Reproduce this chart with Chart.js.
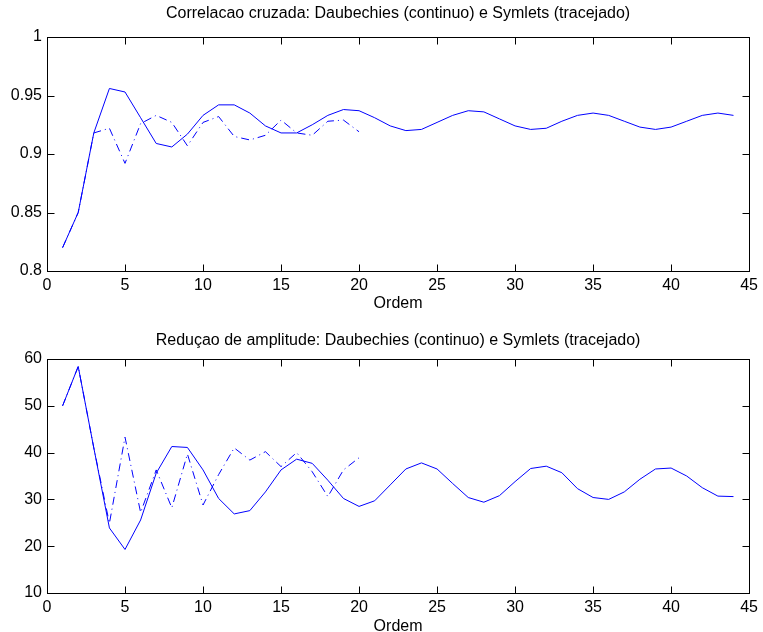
<!DOCTYPE html>
<html>
<head>
<meta charset="utf-8">
<script src="https://cdn.jsdelivr.net/npm/chart.js@4.4.1/dist/chart.umd.min.js"></script>
<style>
  html, body { margin: 0; padding: 0; background: #fff; overflow: hidden; }
  #wrap { position: relative; width: 763px; height: 632px; }
  canvas { position: absolute; left: 0; }
  #c1 { top: 0; }
  #c2 { top: 316px; }
</style>
</head>
<body>
<div id="wrap">
  <canvas id="c1" width="763" height="316"></canvas>
  <canvas id="c2" width="763" height="321"></canvas>
</div>
<script>
// ordem (x)
const ordemDaub = Array.from({ length: 44 }, (_, i) => i + 1);
const ordemSym = Array.from({ length: 20 }, (_, i) => i + 1);

// correlacao cruzada
const corrDaub = [0.820, 0.850, 0.918, 0.956, 0.953, 0.931, 0.909, 0.906, 0.917, 0.933,
                  0.942, 0.942, 0.935, 0.924, 0.918, 0.918, 0.925, 0.933, 0.938, 0.937,
                  0.931, 0.924, 0.920, 0.921, 0.927, 0.933, 0.937, 0.936, 0.930, 0.924,
                  0.921, 0.922, 0.928, 0.933, 0.935, 0.933, 0.928, 0.923, 0.921, 0.923,
                  0.928, 0.933, 0.935, 0.933];
const corrSym = [0.820, 0.850, 0.918, 0.922, 0.892, 0.926, 0.933, 0.927, 0.907, 0.927,
                 0.932, 0.915, 0.912, 0.916, 0.929, 0.918, 0.916, 0.928, 0.929, 0.919];

// reducao de amplitude
const ampDaub = [50.0, 58.4, 41.0, 23.9, 19.3, 25.6, 35.6, 41.3, 41.1, 36.3,
                 30.2, 26.9, 27.6, 31.6, 36.3, 38.6, 37.7, 34.1, 30.2, 28.5,
                 29.7, 33.1, 36.5, 37.8, 36.5, 33.4, 30.4, 29.4, 30.8, 33.8,
                 36.6, 37.1, 35.7, 32.3, 30.4, 30.0, 31.6, 34.3, 36.5, 36.7,
                 35.0, 32.5, 30.7, 30.6];
const ampSym = [50.0, 58.4, 41.0, 24.9, 43.3, 27.2, 36.3, 28.2, 39.7, 28.8,
                35.3, 41.0, 38.4, 40.2, 37.0, 40.0, 35.9, 30.6, 36.3, 38.9];

// ticks
const xTicks = [0, 5, 10, 15, 20, 25, 30, 35, 40, 45];
const corrTicks = [0.8, 0.85, 0.9, 0.95, 1];
const ampTicks = [10, 20, 30, 40, 50, 60];

const FONT = "'Liberation Sans', Arial, sans-serif";
Chart.defaults.font.family = FONT;
Chart.defaults.font.size = 16;
Chart.defaults.color = '#000';

const BLUE = '#0000ff';

// matlab style box with inward ticks, title centred over the axes
const boxTicks = {
  id: 'boxTicks',
  afterDraw(chart, args, opts) {
    const { ctx, chartArea: a, scales: { x, y } } = chart;
    const L = Math.round(a.left) + 0.5, R = Math.round(a.right) + 0.5;
    const T = Math.round(a.top) + 0.5, B = Math.round(a.bottom) + 0.5;
    ctx.save();
    ctx.strokeStyle = '#000';
    ctx.lineWidth = 1;
    ctx.beginPath();
    x.ticks.forEach(t => {
      const px = Math.round(x.getPixelForValue(t.value)) + 0.5;
      ctx.moveTo(px, T); ctx.lineTo(px, T + 7);
      ctx.moveTo(px, B); ctx.lineTo(px, B - 7);
    });
    y.ticks.forEach(t => {
      const py = Math.round(y.getPixelForValue(t.value)) + 0.5;
      ctx.moveTo(L, py); ctx.lineTo(L + 7, py);
      ctx.moveTo(R, py); ctx.lineTo(R - 7, py);
    });
    ctx.stroke();
    ctx.strokeRect(L, T, R - L, B - T);

    ctx.fillStyle = '#000';
    ctx.font = '16px ' + FONT;
    ctx.textAlign = 'center';
    ctx.textBaseline = 'middle';
    ctx.fillText(opts.text, (a.left + a.right) / 2, opts.y);
    ctx.restore();
  }
};

function pts(xs, ys) {
  return ys.map((v, i) => ({ x: xs[i], y: v }));
}

function makeChart(id, cfg) {
  return new Chart(document.getElementById(id), {
    type: 'line',
    data: {
      datasets: [
        { data: pts(ordemDaub, cfg.daub), borderColor: BLUE, borderWidth: 1, pointRadius: 0, tension: 0, fill: false },
        { data: pts(ordemSym, cfg.sym), borderColor: BLUE, borderWidth: 1, pointRadius: 0, tension: 0, fill: false, borderDash: [8, 4, 1, 4] }
      ]
    },
    options: {
      responsive: false,
      animation: false,
      layout: { padding: { top: cfg.top, left: 0, right: 6.5, bottom: cfg.padBottom } },
      plugins: {
        legend: { display: false },
        tooltip: { enabled: false },
        title: { display: false },
        boxTicks: { text: cfg.title, y: cfg.titleY }
      },
      scales: {
        x: {
          type: 'linear',
          min: 0, max: 45,
          grid: { display: false, drawTicks: false },
          border: { display: false },
          afterBuildTicks: s => { s.ticks = xTicks.map(v => ({ value: v })); },
          afterFit: s => { s.height = cfg.xHeight; },
          ticks: { padding: 5, maxRotation: 0, callback: v => String(v) },
          title: { display: true, text: 'Ordem', padding: 0, font: { size: 16 } }
        },
        y: {
          min: cfg.yTicks[0], max: cfg.yTicks[cfg.yTicks.length - 1],
          grid: { display: false, drawTicks: false },
          border: { display: false },
          afterBuildTicks: s => { s.ticks = cfg.yTicks.map(v => ({ value: v })); },
          afterFit: s => { s.width = 47; },
          ticks: { padding: 5, callback: v => String(v) }
        }
      }
    },
    plugins: [boxTicks]
  });
}

makeChart('c1', {
  daub: corrDaub, sym: corrSym, yTicks: corrTicks,
  title: 'Correlacao cruzada: Daubechies (continuo) e Symlets (tracejado)',
  titleY: 14, top: 37, xHeight: 42.6, padBottom: 2.4
});

makeChart('c2', {
  daub: ampDaub, sym: ampSym, yTicks: ampTicks,
  title: 'Reduçao de amplitude: Daubechies (continuo) e Symlets (tracejado)',
  titleY: 25, top: 43, xHeight: 43.6, padBottom: 0.4
});
</script>
</body>
</html>
